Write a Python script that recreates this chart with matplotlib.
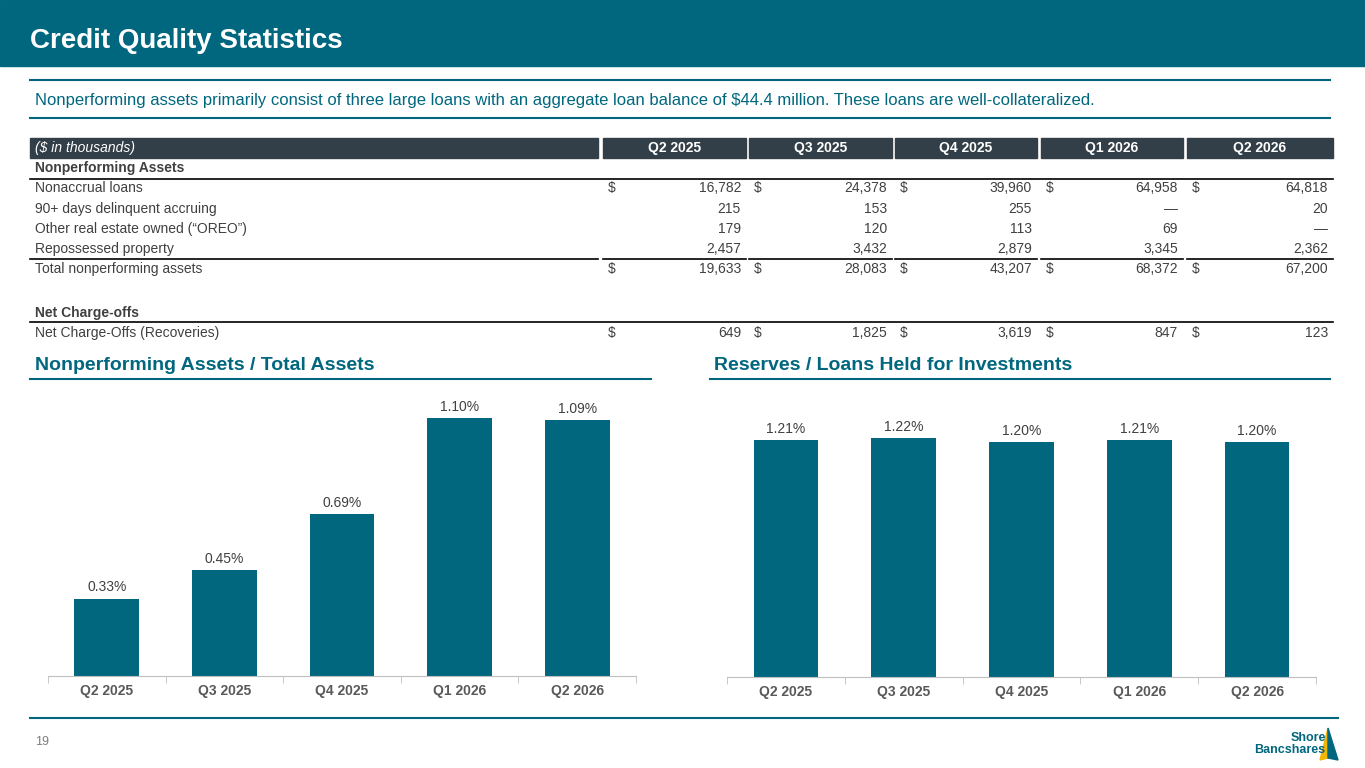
import matplotlib
matplotlib.use('Agg')
import matplotlib.pyplot as plt
import matplotlib.patches as patches

plt.rcParams['font.family'] = ['Liberation Sans', 'DejaVu Sans']

TEAL = '#00677f'
DARK = '#333f48'
GREY = '#404040'

quarters = ['Q2 2025', 'Q3 2025', 'Q4 2025', 'Q1 2026', 'Q2 2026']
row_labels = ['Nonaccrual loans', '90+ days delinquent accruing',
              'Other real estate owned (\u201cOREO\u201d)', 'Repossessed property',
              'Total nonperforming assets']
nonaccrual = ['16,782', '24,378', '39,960', '64,958', '64,818']
delinquent = ['215', '153', '255', '\u2014', '20']
oreo = ['179', '120', '113', '69', '\u2014']
repossessed = ['2,457', '3,432', '2,879', '3,345', '2,362']
total_npa = ['19,633', '28,083', '43,207', '68,372', '67,200']
net_chargeoffs = ['649', '1,825', '3,619', '847', '123']
npa_ratio = [0.33, 0.45, 0.69, 1.10, 1.09]
reserve_ratio = [1.21, 1.22, 1.20, 1.21, 1.20]

W, H = 1365, 768
fig = plt.figure(figsize=(13.65, 7.68), dpi=100)
bg = fig.add_axes([0, 0, 1, 1])
bg.set_xlim(0, W)
bg.set_ylim(H, 0)
bg.axis('off')

# header band
bg.add_patch(patches.Rectangle((0, 0), W, 66, color=TEAL))
bg.text(30, 41, 'Credit Quality Statistics', color='white', fontsize=20,
        fontweight='bold', va='center')
bg.plot([30, 1330], [80, 80], color=TEAL, lw=1.5)
bg.plot([30, 1330], [118, 118], color=TEAL, lw=1.5)
bg.text(35, 100, 'Nonperforming assets primarily consist of three large loans with an aggregate '
        'loan balance of $44.4 million. These loans are well-collateralized.',
        color=TEAL, fontsize=12, va='center')

# table
cols = [(603, 746), (749, 892), (895, 1037), (1041, 1183), (1187, 1333)]
bg.add_patch(patches.Rectangle((30, 138), 568, 20, color=DARK))
bg.text(35, 148, '($ in thousands)', color='white', fontsize=10, style='italic', va='center')
for (l, r), q in zip(cols, quarters):
    bg.add_patch(patches.Rectangle((l, 138), r - l, 20, color=DARK))
    bg.text((l + r) / 2, 148, q, color='white', fontsize=10, fontweight='bold',
            va='center', ha='center')

bg.text(35, 168, 'Nonperforming Assets', color=GREY, fontsize=10, fontweight='bold', va='center')
bg.plot([30, 1333], [179, 179], color='black', lw=1.2)
rows_y = [188, 209, 229, 249, 269]
rows = [nonaccrual, delinquent, oreo, repossessed, total_npa]
for y, lab, vals in zip(rows_y, row_labels, rows):
    bg.text(35, y, lab, color=GREY, fontsize=10, va='center')
    for (l, r), v in zip(cols, vals):
        if vals is nonaccrual or vals is total_npa:
            bg.text(l + 5, y, '$', color=GREY, fontsize=10, va='center')
        bg.text(r - 5, y, v, color=GREY, fontsize=10, va='center', ha='right')
for l, r in [(30, 598)] + cols:
    bg.plot([l, r], [259, 259], color='black', lw=1.2)

bg.text(35, 313, 'Net Charge-offs', color=GREY, fontsize=10, fontweight='bold', va='center')
bg.plot([30, 1333], [322, 322], color='black', lw=1.2)
bg.text(35, 333, 'Net Charge-Offs (Recoveries)', color=GREY, fontsize=10, va='center')
for (l, r), v in zip(cols, net_chargeoffs):
    bg.text(l + 5, 333, '$', color=GREY, fontsize=10, va='center')
    bg.text(r - 5, 333, v, color=GREY, fontsize=10, va='center', ha='right')

# chart titles
bg.text(35, 365, 'Nonperforming Assets / Total Assets', color=TEAL, fontsize=14,
        fontweight='bold', va='center')
bg.text(714, 365, 'Reserves / Loans Held for Investments', color=TEAL, fontsize=14,
        fontweight='bold', va='center')
bg.plot([30, 651], [379, 379], color=TEAL, lw=1.5)
bg.plot([710, 1330], [379, 379], color=TEAL, lw=1.5)

# footer
bg.plot([30, 1338], [718, 718], color=TEAL, lw=1.5)
bg.text(35, 742, '19', color='#7f7f7f', fontsize=9, va='center')
bg.text(1290, 744, 'Shore\nBancshares', color=TEAL, fontsize=9, fontweight='bold',
        ha='center', va='center', linespacing=0.95, multialignment='right')
bg.add_patch(patches.Polygon([(1328, 728), (1320, 760), (1328, 758)], color='#f2b705'))
bg.add_patch(patches.Polygon([(1328, 728), (1338, 760), (1328, 758)], color=TEAL))


def bar_chart(x0, x1, base, top, ymax, vals):
    ax = fig.add_axes([x0 / W, 1 - base / H, (x1 - x0) / W, (base - top) / H])
    ax.bar(quarters, vals, width=0.55, color=TEAL)
    ax.set_ylim(0, ymax)
    ax.set_xlim(-0.5, len(vals) - 0.5)
    for i, v in enumerate(vals):
        ax.text(i, v + ymax * 0.015, f'{v:.2f}%', ha='center', va='bottom',
                fontsize=10, color=GREY)
    for s in ['top', 'left', 'right']:
        ax.spines[s].set_visible(False)
    ax.spines['bottom'].set_color('#bfbfbf')
    ax.set_yticks([])
    ax.tick_params(axis='x', labelcolor='#595959', labelsize=10, pad=6)
    for t in ax.get_xticklabels():
        t.set_fontweight('bold')
    ax.set_xticks([i + 0.5 for i in range(-1, len(vals))], minor=True)
    ax.tick_params(axis='x', which='major', length=0)
    ax.tick_params(axis='x', which='minor', length=5, color='#bfbfbf')
    ax.patch.set_alpha(0)


bar_chart(48, 636, 676, 396, 280 / 234.5, npa_ratio)
bar_chart(727, 1316, 677, 396, 281 / 196, reserve_ratio)

fig.savefig('out.png', dpi=100, facecolor='white')
